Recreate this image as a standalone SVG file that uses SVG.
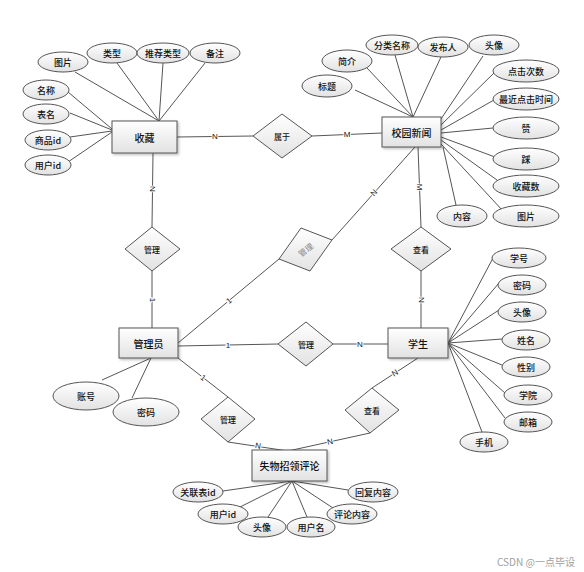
<svg xmlns="http://www.w3.org/2000/svg" width="584" height="572" viewBox="0 0 584 572">
<defs>
<linearGradient id="g" x1="0" y1="0" x2="0" y2="1">
<stop offset="0" stop-color="#ffffff"/>
<stop offset="1" stop-color="#e2e2e2"/>
</linearGradient>
<filter id="sh" x="-10%" y="-10%" width="130%" height="140%">
<feDropShadow dx="1.5" dy="1.5" stdDeviation="1" flood-color="#000" flood-opacity="0.25"/>
</filter>
</defs>
<style>
text{font-family:"Noto Sans CJK SC","Liberation Sans",sans-serif;fill:#111;text-anchor:middle;dominant-baseline:central}
.ent rect{fill:url(#g);stroke:#555;stroke-width:1;filter:url(#sh)}
.ent text{font-size:10px;font-weight:500}
.att ellipse{fill:url(#g);stroke:#555;stroke-width:1}
.att text{font-size:9px;font-weight:500}
.rel polygon{fill:url(#g);stroke:#555;stroke-width:1}
.rel text{font-size:8px;font-weight:500}
.conn line{stroke:#555;stroke-width:1}
.lbl{font-size:8px;font-family:"Liberation Sans",sans-serif;stroke:#fff;stroke-width:2;paint-order:stroke;fill:#111}
.wm{font-size:10px;fill:#a0a0a0;text-anchor:start}
</style>
<rect width="584" height="572" fill="#fff"/>

<g id="connectors" class="conn">
<!-- 收藏 attributes -->
<line x1="75" y1="72" x2="159" y2="121"/>
<line x1="117" y1="63" x2="159" y2="121"/>
<line x1="163" y1="63" x2="159" y2="121"/>
<line x1="205" y1="63" x2="159" y2="121"/>
<line x1="68" y1="92" x2="112" y2="129"/>
<line x1="70" y1="113" x2="112" y2="130"/>
<line x1="70" y1="137" x2="112" y2="131"/>
<line x1="68" y1="162" x2="112" y2="132"/>
<!-- 校园新闻 attributes -->
<line x1="355" y1="90" x2="413" y2="117"/>
<line x1="367" y1="68" x2="413" y2="117"/>
<line x1="395" y1="55" x2="413" y2="117"/>
<line x1="441" y1="57" x2="413" y2="117"/>
<line x1="483" y1="56" x2="441" y2="119"/>
<line x1="495" y1="72" x2="441" y2="125"/>
<line x1="494" y1="100" x2="441" y2="130"/>
<line x1="493" y1="128" x2="441" y2="133"/>
<line x1="495" y1="157" x2="441" y2="137"/>
<line x1="497" y1="180" x2="441" y2="140"/>
<line x1="503" y1="211" x2="441" y2="144"/>
<line x1="456" y1="205" x2="443" y2="147"/>
<!-- 学生 attributes -->
<line x1="493" y1="258" x2="448" y2="343"/>
<line x1="499" y1="283" x2="448" y2="343"/>
<line x1="499" y1="310" x2="448" y2="343"/>
<line x1="502" y1="339" x2="448" y2="343"/>
<line x1="502" y1="365" x2="448" y2="343"/>
<line x1="505" y1="393" x2="448" y2="343"/>
<line x1="505" y1="418" x2="448" y2="343"/>
<line x1="482" y1="432" x2="448" y2="343"/>
<!-- 管理员 attributes -->
<line x1="102" y1="380" x2="151" y2="358"/>
<line x1="132" y1="398" x2="151" y2="358"/>
<!-- 失物招领评论 attributes -->
<line x1="223" y1="491" x2="292" y2="481"/>
<line x1="240" y1="507" x2="292" y2="481"/>
<line x1="268" y1="517" x2="292" y2="481"/>
<line x1="307" y1="517" x2="292" y2="481"/>
<line x1="333" y1="508" x2="292" y2="481"/>
<line x1="348" y1="490" x2="292" y2="481"/>
<!-- relationships -->
<line x1="177" y1="137" x2="253" y2="136"/>
<line x1="312" y1="136" x2="382" y2="133"/>
<line x1="153" y1="153" x2="152" y2="227"/>
<line x1="152" y1="271" x2="152" y2="328"/>
<line x1="418" y1="147" x2="421" y2="227"/>
<line x1="421" y1="271" x2="421" y2="328"/>
<line x1="415" y1="147" x2="332" y2="240"/>
<line x1="279" y1="259" x2="178" y2="343"/>
<line x1="178" y1="346" x2="278" y2="344"/>
<line x1="333" y1="344" x2="388" y2="344"/>
<line x1="178" y1="358" x2="228" y2="397"/>
<line x1="228" y1="442" x2="288" y2="451"/>
<line x1="370" y1="433" x2="288" y2="451"/>
<line x1="418" y1="358" x2="372" y2="388"/>
<!-- cardinality labels -->
<text class="lbl" x="215" y="136">N</text>
<text class="lbl" x="347" y="134">M</text>
<text class="lbl" x="152" y="189" transform="rotate(90 152 189)">N</text>
<text class="lbl" x="152" y="300" transform="rotate(90 152 300)">1</text>
<text class="lbl" x="419" y="187" transform="rotate(90 419 187)">M</text>
<text class="lbl" x="421" y="300" transform="rotate(90 421 300)">N</text>
<text class="lbl" x="374" y="193" transform="rotate(-48 374 193)">N</text>
<text class="lbl" x="229" y="301" transform="rotate(-40 229 301)">1</text>
<text class="lbl" x="228" y="345">1</text>
<text class="lbl" x="360" y="344">N</text>
<text class="lbl" x="203" y="378" transform="rotate(38 203 378)">1</text>
<text class="lbl" x="258" y="446" transform="rotate(9 258 446)">N</text>
<text class="lbl" x="330" y="442" transform="rotate(-12 330 442)">N</text>
<text class="lbl" x="395" y="373" transform="rotate(-33 395 373)">N</text>
</g>

<g id="shoucang" class="ent"><rect x="112" y="121" width="65" height="32"/><text x="144.5" y="137">收藏</text></g>
<g id="xiaoyuanxinwen" class="ent"><rect x="382" y="117" width="59" height="30"/><text x="411.5" y="132">校园新闻</text></g>
<g id="guanliyuan" class="ent"><rect x="119" y="328" width="59" height="30"/><text x="148.5" y="343">管理员</text></g>
<g id="xuesheng" class="ent"><rect x="388" y="328" width="60" height="30"/><text x="418" y="343">学生</text></g>
<g id="shiwupinglun" class="ent"><rect x="252" y="450" width="75" height="31"/><text x="289.5" y="465.5">失物招领评论</text></g>

<g id="rel-shuyu" class="rel"><polygon points="282,114 312,136 282,158 253,136"/><text x="282" y="136">属于</text></g>
<g id="rel-guanli1" class="rel"><polygon points="152,227 180,249 152,271 125,249"/><text x="152" y="249">管理</text></g>
<g id="rel-chakan1" class="rel"><polygon points="421,227 451,249 421,271 391,249"/><text x="421" y="249">查看</text></g>
<g id="rel-guanli2" class="rel"><polygon points="301,228 332,240 310,271 279,259"/><text x="305.5" y="249.5" transform="rotate(-38 305.5 249.5)" style="fill:#888;font-weight:normal">管理</text></g>
<g id="rel-guanli3" class="rel"><polygon points="306,322 333,344 306,366 278,344"/><text x="306" y="344">管理</text></g>
<g id="rel-guanli4" class="rel"><polygon points="228,397 255,419 228,442 201,419"/><text x="228" y="419">管理</text></g>
<g id="rel-chakan2" class="rel"><polygon points="372,388 399,410 370,433 345,410"/><text x="372" y="410">查看</text></g>

<g id="att-sc-tupian" class="att"><ellipse cx="63" cy="62" rx="25" ry="10"/><text x="63" y="62">图片</text></g>
<g id="att-sc-leixing" class="att"><ellipse cx="112" cy="53" rx="25" ry="10"/><text x="112" y="53">类型</text></g>
<g id="att-sc-tuijian" class="att"><ellipse cx="163" cy="53" rx="26" ry="10"/><text x="163" y="53">推荐类型</text></g>
<g id="att-sc-beizhu" class="att"><ellipse cx="215" cy="53" rx="25" ry="10"/><text x="215" y="53">备注</text></g>
<g id="att-sc-mingcheng" class="att"><ellipse cx="46" cy="90" rx="23" ry="10"/><text x="46" y="90">名称</text></g>
<g id="att-sc-biaoming" class="att"><ellipse cx="46" cy="114" rx="23" ry="10"/><text x="46" y="114">表名</text></g>
<g id="att-sc-shangpinid" class="att"><ellipse cx="48" cy="140" rx="23" ry="10"/><text x="48" y="140">商品id</text></g>
<g id="att-sc-yonghuid" class="att"><ellipse cx="48" cy="165" rx="23" ry="10"/><text x="48" y="165">用户id</text></g>

<g id="att-xw-jianjie" class="att"><ellipse cx="347" cy="61" rx="25" ry="11"/><text x="347" y="61">简介</text></g>
<g id="att-xw-biaoti" class="att"><ellipse cx="327" cy="86" rx="25" ry="11"/><text x="327" y="86">标题</text></g>
<g id="att-xw-fenlei" class="att"><ellipse cx="392" cy="45" rx="26" ry="10"/><text x="392" y="45">分类名称</text></g>
<g id="att-xw-fabuRen" class="att"><ellipse cx="443" cy="47" rx="25" ry="10"/><text x="443" y="47">发布人</text></g>
<g id="att-xw-touxiang" class="att"><ellipse cx="494" cy="45" rx="25" ry="10"/><text x="494" y="45">头像</text></g>
<g id="att-xw-dianji" class="att"><ellipse cx="526" cy="71" rx="33" ry="11"/><text x="526" y="71">点击次数</text></g>
<g id="att-xw-zuijin" class="att"><ellipse cx="526" cy="99" rx="33" ry="11"/><text x="526" y="99">最近点击时间</text></g>
<g id="att-xw-zan" class="att"><ellipse cx="526" cy="128" rx="33" ry="11"/><text x="526" y="128">赞</text></g>
<g id="att-xw-cai" class="att"><ellipse cx="526" cy="159" rx="33" ry="11"/><text x="526" y="159">踩</text></g>
<g id="att-xw-shoucangshu" class="att"><ellipse cx="526" cy="186" rx="33" ry="11"/><text x="526" y="186">收藏数</text></g>
<g id="att-xw-tupian" class="att"><ellipse cx="526" cy="216" rx="33" ry="11"/><text x="526" y="216">图片</text></g>
<g id="att-xw-neirong" class="att"><ellipse cx="462" cy="216" rx="25" ry="11"/><text x="462" y="216">内容</text></g>

<g id="att-xs-xuehao" class="att"><ellipse cx="519" cy="258" rx="27" ry="10"/><text x="519" y="258">学号</text></g>
<g id="att-xs-mima" class="att"><ellipse cx="522" cy="285" rx="24" ry="10"/><text x="522" y="285">密码</text></g>
<g id="att-xs-touxiang" class="att"><ellipse cx="522" cy="312" rx="24" ry="10"/><text x="522" y="312">头像</text></g>
<g id="att-xs-xingming" class="att"><ellipse cx="526" cy="340" rx="24" ry="10"/><text x="526" y="340">姓名</text></g>
<g id="att-xs-xingbie" class="att"><ellipse cx="526" cy="367" rx="24" ry="10"/><text x="526" y="367">性别</text></g>
<g id="att-xs-xueyuan" class="att"><ellipse cx="528" cy="395" rx="24" ry="10"/><text x="528" y="395">学院</text></g>
<g id="att-xs-youxiang" class="att"><ellipse cx="528" cy="422" rx="24" ry="10"/><text x="528" y="422">邮箱</text></g>
<g id="att-xs-shouji" class="att"><ellipse cx="484" cy="442" rx="24" ry="10"/><text x="484" y="442">手机</text></g>

<g id="att-gly-zhanghao" class="att"><ellipse cx="86" cy="396" rx="33" ry="14"/><text x="86" y="396">账号</text></g>
<g id="att-gly-mima" class="att"><ellipse cx="146" cy="412" rx="33" ry="14"/><text x="146" y="412">密码</text></g>

<g id="att-pl-guanlian" class="att"><ellipse cx="198" cy="492" rx="25" ry="10"/><text x="198" y="492">关联表id</text></g>
<g id="att-pl-yonghuid" class="att"><ellipse cx="223" cy="514" rx="25" ry="10"/><text x="223" y="514">用户id</text></g>
<g id="att-pl-touxiang" class="att"><ellipse cx="262" cy="527" rx="24" ry="10"/><text x="262" y="527">头像</text></g>
<g id="att-pl-yonghuming" class="att"><ellipse cx="311" cy="527" rx="24" ry="10"/><text x="311" y="527">用户名</text></g>
<g id="att-pl-pinglun" class="att"><ellipse cx="352" cy="514" rx="25" ry="10"/><text x="352" y="514">评论内容</text></g>
<g id="att-pl-huifu" class="att"><ellipse cx="373" cy="492" rx="25" ry="10"/><text x="373" y="492">回复内容</text></g>

<text class="wm" x="497" y="561">CSDN @一点毕设</text>
</svg>
